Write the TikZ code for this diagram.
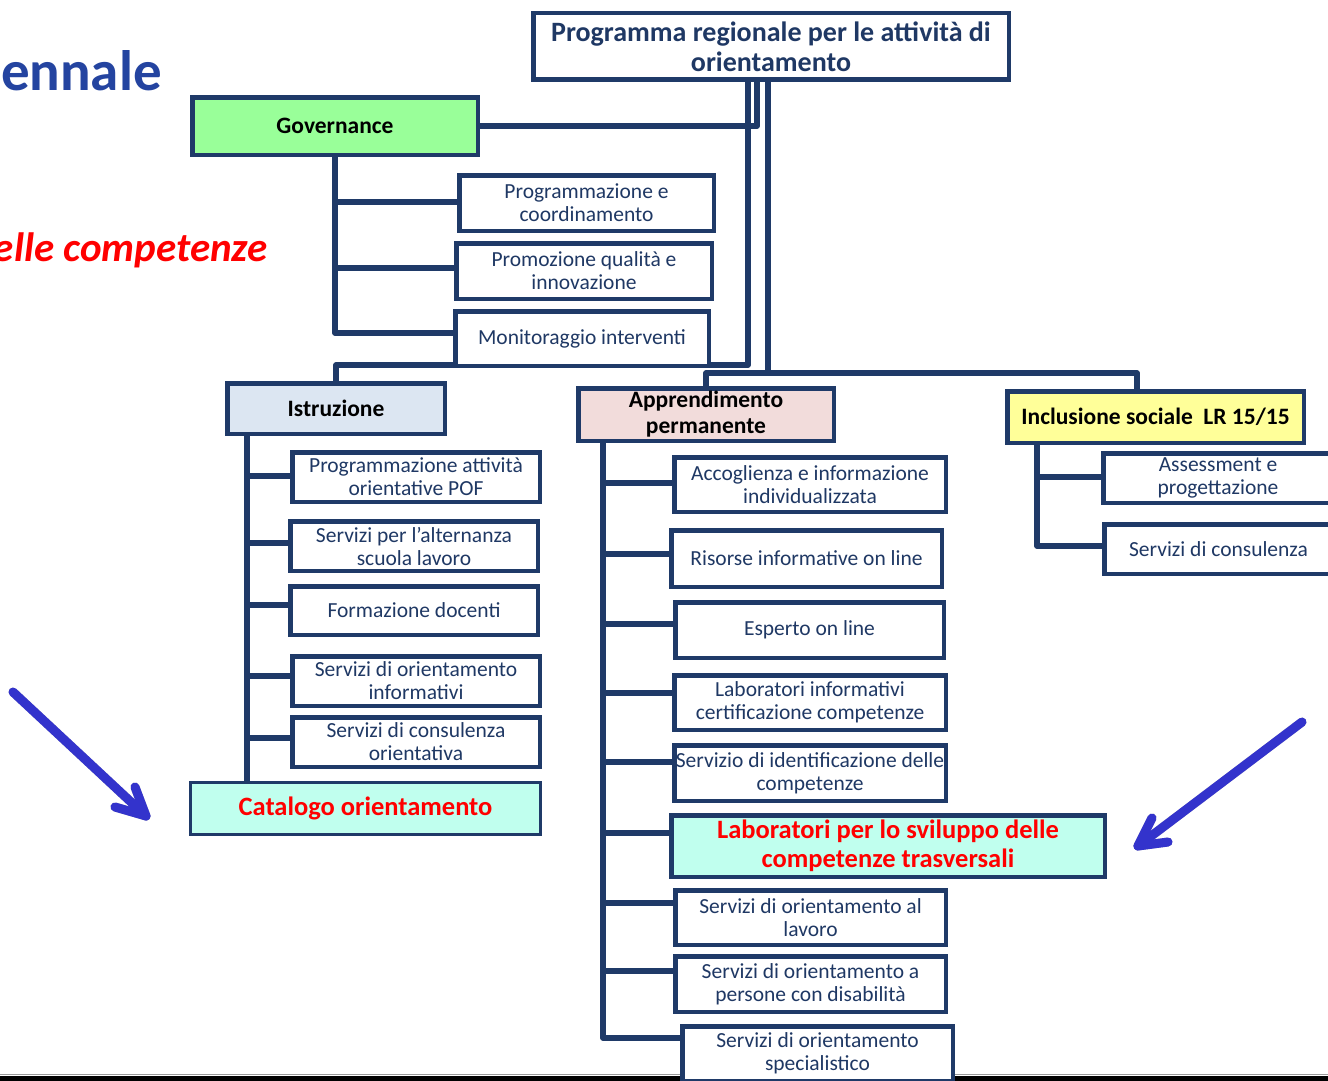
\documentclass[tikz,border=0pt]{standalone}
\usepackage{fontspec}
\setmainfont{Carlito}
\usetikzlibrary{calc,backgrounds}
\definecolor{navy}{RGB}{31,58,104}
\definecolor{txtblue}{RGB}{31,56,100}
\definecolor{titleblue}{RGB}{36,68,160}
\definecolor{arrowblue}{RGB}{51,51,204}
\definecolor{govgreen}{RGB}{153,255,153}
\definecolor{istrblue}{RGB}{220,230,242}
\definecolor{apppink}{RGB}{242,220,219}
\definecolor{inclyellow}{RGB}{255,255,153}
\definecolor{aqua}{RGB}{192,255,238}
\begin{document}
\begin{tikzpicture}[x=1pt,y=-1pt,
  box/.style={draw=navy, line width=4.5pt, fill=white, inner sep=0pt, align=center, text=txtblue, font=\fontsize{21.5}{23}\selectfont},
  head/.style={box, text=black, font=\fontsize{23.5}{26}\selectfont\bfseries},
  hot/.style={box, fill=aqua, text=red, font=\fontsize{26.5}{29}\selectfont\bfseries},
  conn/.style={draw=navy, line width=5.5pt, line join=round},
  pointer/.style={draw=arrowblue, line width=9pt, line cap=round, line join=round},
  pshadow/.style={draw=black, opacity=0.25, line width=9pt, line cap=round, line join=round, shift={(2,3)}}]
\useasboundingbox (0,0) rectangle (1328,1081);

% titles
\node[anchor=base east, inner sep=0pt, text=titleblue, font=\fontsize{57}{60}\selectfont\bfseries] (ttl) at (162,90) {ennale};
\node[anchor=base east, inner sep=0pt, text=red, font=\fontsize{41}{44}\selectfont\bfseries\itshape] (sub) at (268,261) {elle competenze};

% top
\node[box, text=txtblue, font=\fontsize{28}{30}\selectfont\bfseries, minimum width=475.5pt, minimum height=66.5pt] (top) at (771,46.5) {Programma regionale per le attività di\\orientamento};

% governance
\node[head, fill=govgreen, minimum width=285.5pt, minimum height=57.5pt] (gov) at (335,126) {Governance};
\node[box, minimum width=254.5pt, minimum height=55.5pt] (prog) at (586.5,203) {Programmazione e\\coordinamento};
\node[box, minimum width=255.5pt, minimum height=55.5pt] (prom) at (584,271) {Promozione qualità e\\innovazione};
\node[box, minimum width=253.5pt, minimum height=54.5pt] (mon) at (582,338.5) {Monitoraggio interventi};

% istruzione
\node[head, fill=istrblue, minimum width=217.5pt, minimum height=50.5pt] (istr) at (336,408.5) {Istruzione};
\node[box, minimum width=247.5pt, minimum height=49.5pt] (pof) at (416,477) {Programmazione attività\\orientative POF};
\node[box, minimum width=247.5pt, minimum height=49.5pt] (alt) at (414,546) {Servizi per l’alternanza\\scuola lavoro};
\node[box, minimum width=247.5pt, minimum height=48.5pt] (form) at (414,610.5) {Formazione docenti};
\node[box, minimum width=247.5pt, minimum height=49.5pt] (info) at (416,681) {Servizi di orientamento\\informativi};
\node[box, minimum width=247.5pt, minimum height=49.5pt] (cons) at (416,742) {Servizi di consulenza\\orientativa};
\node[hot, line width=3pt, minimum width=350pt, minimum height=52pt] (cat) at (365.5,808.5) {Catalogo orientamento};

% apprendimento
\node[head, fill=apppink, minimum width=255.5pt, minimum height=52.5pt] (appr) at (706,414.5) {Apprendimento\\permanente};
\node[box, minimum width=271.5pt, minimum height=54.5pt] (acc) at (810,484.5) {Accoglienza e informazione\\individualizzata};
\node[box, minimum width=270.5pt, minimum height=56.5pt] (ris) at (806.5,558.5) {Risorse informative on line};
\node[box, minimum width=268.5pt, minimum height=55.5pt] (esp) at (809.5,630) {Esperto on line};
\node[box, minimum width=271.5pt, minimum height=54.5pt] (labinf) at (810,702.5) {Laboratori informativi\\certificazione competenze};
\node[box, minimum width=271.5pt, minimum height=55.5pt] (serid) at (810,773) {Servizio di identificazione delle\\competenze};
\node[hot, minimum width=433.5pt, minimum height=61.5pt] (labsv) at (888,846) {Laboratori per lo sviluppo delle\\competenze trasversali};
\node[box, minimum width=270.5pt, minimum height=54.5pt] (lav) at (810.5,917.5) {Servizi di orientamento al\\lavoro};
\node[box, minimum width=270.5pt, minimum height=55.5pt] (dis) at (810.5,984) {Servizi di orientamento a\\persone con disabilità};
\node[box, minimum width=270.5pt, minimum height=54.5pt] (spec) at (817.5,1053.5) {Servizi di orientamento\\specialistico};

% inclusione
\node[head, fill=inclyellow, minimum width=296.5pt, minimum height=51.5pt] (incl) at (1155.5,417) {Inclusione sociale\ \ LR 15/15};
\node[box, minimum width=229.5pt, minimum height=49.5pt] (ass) at (1218,478) {Assessment e\\progettazione};
\node[box, minimum width=228.5pt, minimum height=49.5pt] (conss) at (1218.5,549) {Servizi di consulenza};

% coordinates
\coordinate (vA) at (748,80);
\coordinate (vB) at (757,80);
\coordinate (vC) at (768,80);
\coordinate (jA) at (748,365);
\coordinate (jC) at (768,373);
\coordinate (jI) at (1137,373);
\coordinate (g1) at (335,202);
\coordinate (g2) at (335,268);
\coordinate (g3) at (335,333);
\coordinate (i1) at (247,476);
\coordinate (i2) at (247,543);
\coordinate (i3) at (247,605);
\coordinate (i4) at (247,676);
\coordinate (i5) at (247,738);
\coordinate (a1) at (603,483);
\coordinate (a2) at (603,554);
\coordinate (a3) at (603,624);
\coordinate (a4) at (603,693);
\coordinate (a5) at (603,762);
\coordinate (a6) at (603,833);
\coordinate (a7) at (603,903);
\coordinate (a8) at (603,971);
\coordinate (a9) at (603,1038);
\coordinate (n1) at (1037,477);
\coordinate (n2) at (1037,546);
\coordinate (bl0) at (0,1078);
\coordinate (bl1) at (1328,1078);

\begin{scope}[on background layer]
  \fill[white] (0,0) rectangle (1328,1081);
  \draw[draw=black!40, line width=1.5pt] (0,1074.5) -- (1328,1074.5);
  \draw[draw=black, line width=5pt] (bl0) -- (bl1);
  % top connectors
  \draw[conn] (vB) |- (gov.east);
  \draw[conn] (vA) -- (jA) -| (istr.north);
  \draw[conn] (vC) -- (jC) -| (appr.north);
  \draw[conn] (jC) -- (jI) -- (jI |- incl.north);
  % governance
  \draw[conn] (gov.south) -- (g3) -- (g3 -| mon.west);
  \draw[conn] (g1) -- (g1 -| prog.west);
  \draw[conn] (g2) -- (g2 -| prom.west);
  % istruzione
  \draw[conn] (istr.south -| i1) -- (i1 |- cat.north);
  \draw[conn] (i1) -- (i1 -| pof.west);
  \draw[conn] (i2) -- (i2 -| alt.west);
  \draw[conn] (i3) -- (i3 -| form.west);
  \draw[conn] (i4) -- (i4 -| info.west);
  \draw[conn] (i5) -- (i5 -| cons.west);
  % apprendimento
  \draw[conn] (appr.south -| a1) -- (a9) -- (a9 -| spec.west);
  \draw[conn] (a1) -- (a1 -| acc.west);
  \draw[conn] (a2) -- (a2 -| ris.west);
  \draw[conn] (a3) -- (a3 -| esp.west);
  \draw[conn] (a4) -- (a4 -| labinf.west);
  \draw[conn] (a5) -- (a5 -| serid.west);
  \draw[conn] (a6) -- (a6 -| labsv.west);
  \draw[conn] (a7) -- (a7 -| lav.west);
  \draw[conn] (a8) -- (a8 -| dis.west);
  % inclusione
  \draw[conn] (incl.south -| n1) -- (n2) -- (n2 -| conss.west);
  \draw[conn] (n1) -- (n1 -| ass.west);
\end{scope}

% pointer arrows
\coordinate (la0) at (13,692);
\coordinate (la1) at (146,816);
\coordinate (lab1) at (135,787);
\coordinate (lab2) at (115,807);
\coordinate (ra0) at (1302,722);
\coordinate (ra1) at (1138,846);
\coordinate (rab1) at (1152,818);
\coordinate (rab2) at (1168,842);
\draw[pshadow] (la0) -- (la1);
\draw[pshadow] (lab1) -- (la1) -- (lab2);
\draw[pshadow] (ra0) -- (ra1);
\draw[pshadow] (rab1) -- (ra1) -- (rab2);
\draw[pointer] (la0) -- (la1);
\draw[pointer] (lab1) -- (la1) -- (lab2);
\draw[pointer] (ra0) -- (ra1);
\draw[pointer] (rab1) -- (ra1) -- (rab2);
\end{tikzpicture}
\end{document}
